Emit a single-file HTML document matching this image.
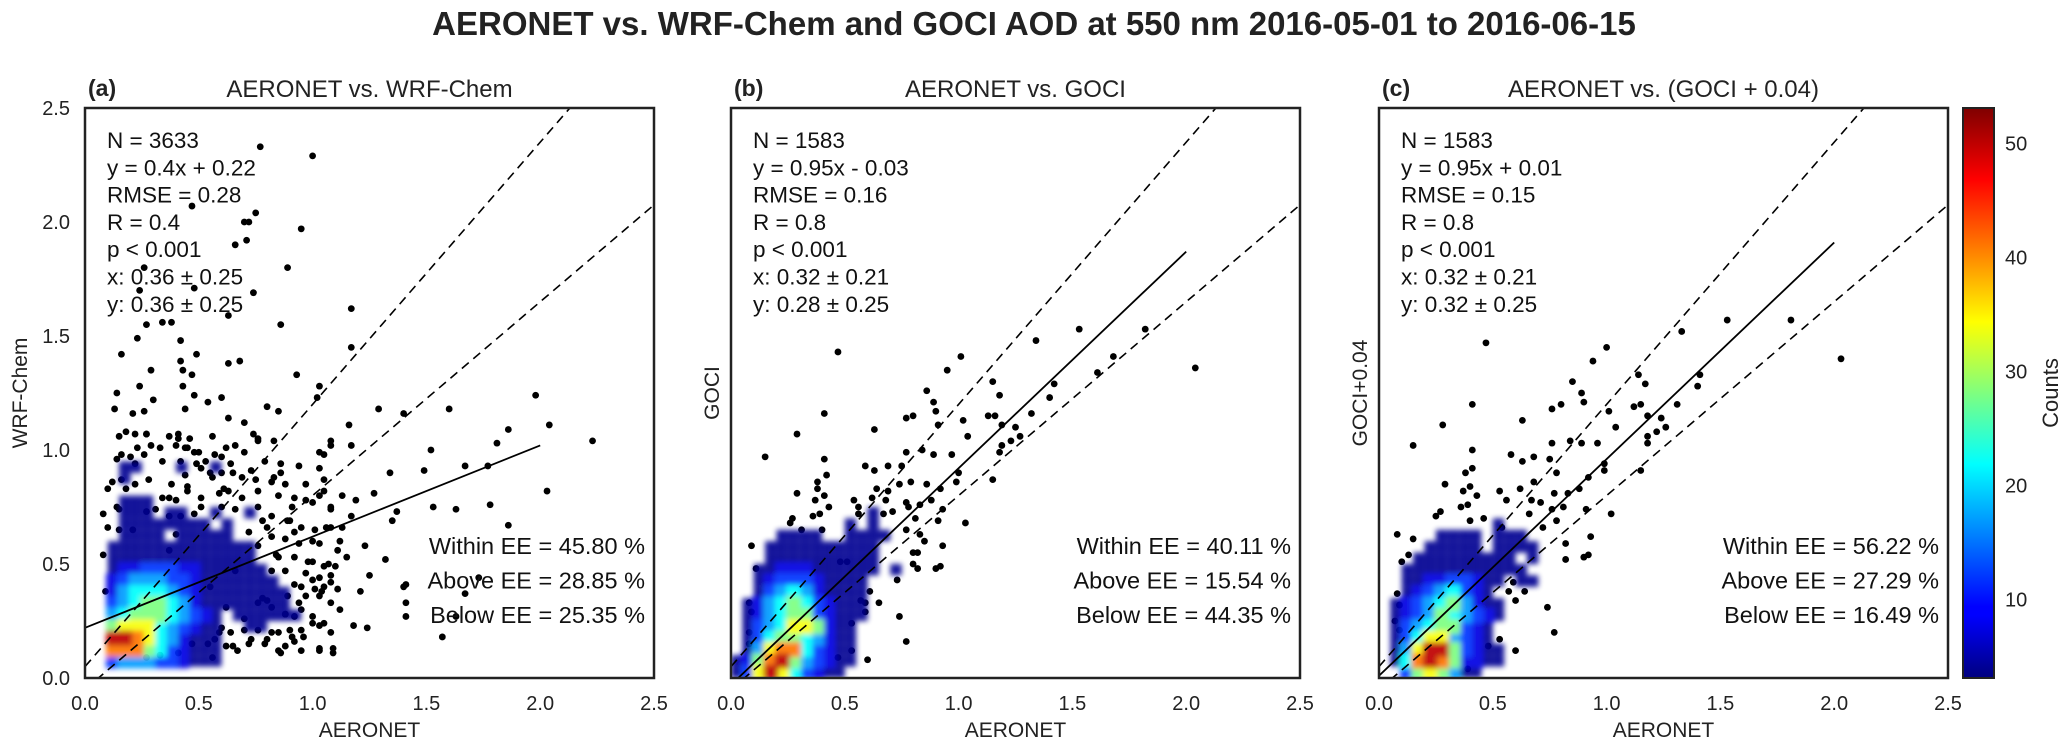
<!DOCTYPE html>
<html><head><meta charset="utf-8">
<style>
html,body{margin:0;padding:0;background:#fff;}
svg{display:block;font-family:"Liberation Sans",Arial,sans-serif;}
</style></head>
<body>
<svg id="chart" width="2067" height="749" viewBox="0 0 2067 749" xmlns="http://www.w3.org/2000/svg">
<defs>
<filter id="soft" x="-5%" y="-5%" width="110%" height="110%"><feGaussianBlur stdDeviation="2.6"/></filter>
<linearGradient id="jetGrad" x1="0" y1="1" x2="0" y2="0">
<stop offset="0" stop-color="#00007f"/><stop offset="0.11" stop-color="#0000ff"/>
<stop offset="0.125" stop-color="#0000ff"/><stop offset="0.375" stop-color="#00ffff"/>
<stop offset="0.5" stop-color="#7fff7f"/><stop offset="0.625" stop-color="#ffff00"/>
<stop offset="0.875" stop-color="#ff0000"/><stop offset="1" stop-color="#7f0000"/>
</linearGradient>
</defs>
<text x="1034" y="35" text-anchor="middle" font-size="33" font-weight="bold" fill="#222">AERONET vs. WRF-Chem and GOCI AOD at 550 nm 2016-05-01 to 2016-06-15</text>
<g id="panels"></g>
<g>
<rect x="1963" y="108" width="31" height="570" fill="url(#jetGrad)" stroke="#222" stroke-width="2"/>
<g id="cbticks" font-size="20" fill="#222"></g>
<text transform="translate(2058,393) rotate(-90)" text-anchor="middle" font-size="22" fill="#222">Counts</text>
</g>
</svg>
<script>
// ---------- Data ----------
const axisTicks = [0, 0.5, 1.0, 1.5, 2.0, 2.5];
const axisTickLabels = ["0.0","0.5","1.0","1.5","2.0","2.5"];
const cbTicks = [10, 20, 30, 40, 50];
const cbMin = 3.1, cbMax = 53.1;
const levelCounts = [0, 4, 8, 12, 17, 22, 28, 34, 41, 50];

const panelIds = ["a","b","c"];
const panelTitles = ["AERONET vs. WRF-Chem","AERONET vs. GOCI","AERONET vs. (GOCI + 0.04)"];
const panelYLabels = ["WRF-Chem","GOCI","GOCI+0.04"];
const fitSlopes = [0.4, 0.95, 0.95];
const fitIntercepts = [0.22, -0.03, 0.01];
const statsA = ["N = 3633","y = 0.4x + 0.22","RMSE = 0.28","R = 0.4","p < 0.001","x: 0.36 ± 0.25","y: 0.36 ± 0.25"];
const statsB = ["N = 1583","y = 0.95x - 0.03","RMSE = 0.16","R = 0.8","p < 0.001","x: 0.32 ± 0.21","y: 0.28 ± 0.25"];
const statsC = ["N = 1583","y = 0.95x + 0.01","RMSE = 0.15","R = 0.8","p < 0.001","x: 0.32 ± 0.21","y: 0.32 ± 0.25"];
const eeA = ["Within EE = 45.80 %","Above EE = 28.85 %","Below EE = 25.35 %"];
const eeB = ["Within EE = 40.11 %","Above EE = 15.54 %","Below EE = 44.35 %"];
const eeC = ["Within EE = 56.22 %","Above EE = 27.29 %","Below EE = 16.49 %"];

const ptsAx = [.77,1.00,.47,.75,.70,.72,.95,.66,.71,.26,.89,.48,.24,.74,.63,1.17,.86,.27,.34,.38,.23,.42,.16,.49,1.17,.42,.63,.68,.29,.43,.47,.93,1.03,.24,.14,.43,.60,.48,.54,.30,1.02,1.98,.13,.80,.85,.63,.44,.21,.26,1.29,1.60,1.40,.70,1.16,2.04,1.86,1.81,2.23,1.08,.76,1.52,1.17,1.05,1.67,1.77,1.49,1.34,1.03,2.03,1.19,1.27,1.63,1.53,1.78,1.37,1.86,1.32,1.40,1.41,1.73,1.67,1.41,1.63,1.57,1.41,1.24,1.18,1.09,1.03,.86,.96,.92,1.00,1.12,1.25,1.21,1.07,1.04,.90,.80,.72,.65,.57,.88,.98,.84,.80,.90,1.00,.76,.69,.61,.55,.65,.57,.49,.45,.41,.33,.22,.18,.14,.10,.12,.16,.27,.82,.86,.92,.72,.76,.80,.92,1.00,1.06,1.12,1.17,1.23,1.15,1.08,1.35,1.00,1.08,.92,.37,.27,.37,.45,.51,.33,.41,.47,.27,.08,.09,.60,.70,.78,.55,.62,.85,.95,.66,.74];
const ptsAy = [2.33,2.29,2.07,2.04,2.00,2.00,1.97,1.90,1.92,1.80,1.80,1.71,1.70,1.69,1.59,1.62,1.55,1.55,1.56,1.56,1.49,1.48,1.42,1.42,1.45,1.39,1.38,1.39,1.35,1.35,1.33,1.33,1.28,1.28,1.25,1.28,1.23,1.24,1.21,1.22,1.23,1.24,1.18,1.19,1.17,1.14,1.18,1.16,1.17,1.18,1.18,1.16,1.12,1.11,1.11,1.09,1.03,1.04,1.04,1.05,1.00,1.02,.98,.93,.93,.91,.90,.92,.82,.78,.81,.74,.75,.76,.73,.67,.52,.40,.41,.44,.37,.33,.27,.18,.27,.22,.23,.13,.12,.11,.18,.16,.24,.30,.45,.38,.50,.38,.21,.17,.15,.14,.17,.28,.51,.54,.66,.69,.60,.75,.79,.83,.90,.90,.98,.94,1.01,1.07,1.01,.94,.83,.75,.66,.86,.98,1.07,.86,.90,.79,.64,.58,.34,.41,.43,.66,.60,.71,.58,.53,.45,.69,.77,.75,.64,.56,.73,.79,.84,.75,.10,.11,.15,.09,.54,.38,.22,.26,.35,.40,.31,.20,.30,.47];
const ptsAx2 = [.15,.18,.22,.27,.37,.41,.46,.56,.76,.83,1.08,.23,.29,.40,.44,.48,.62,.66,.70,.14,.20,.26,.34,.42,.50,.53,.60,.64,.73,.79,.86,.94,1.03,1.05,.10,.16,.22,.28,.38,.44,.51,.56,.60,.69,.75,.83,.88,.97,1.05,1.13,.34,.40,.45,.51,.59,.63,.76,.85,.91,.97,1.03,1.08,.08,.15,.31,.37,.42,.48,.60,.66,.78,.82,.89,.95,1.01,1.08,1.13,.15,.21,.40,.82,.88,.94,1.03,1.11,.85,.92,1.00,1.05,1.10,.82,.88,.97,1.03,1.08,.95,1.01,1.05,1.11,.89,.94,1.03,1.08,.97,.76,.82,.88,.92,1.00,1.05,.95,1.03,1.08,.91,.82,.76,.70,.64,.59,.54,.62,.67,.73,.79,.88,.95,1.03,1.09,.85,.56,.62];
const ptsAy2 = [1.07,1.06,1.08,1.07,1.07,1.06,1.05,1.05,1.06,1.04,1.04,1.02,1.01,1.02,1.02,1.01,.99,1.01,1.02,.99,.96,.97,.98,.95,.95,.99,.95,.97,.94,.91,.95,.94,.93,.99,.87,.83,.87,.85,.87,.85,.89,.92,.88,.90,.88,.87,.88,.85,.85,.82,.80,.79,.78,.82,.79,.81,.82,.82,.80,.75,.78,.80,.74,.72,.74,.74,.71,.71,.72,.75,.74,.69,.71,.69,.66,.65,.66,.66,.65,.65,.63,.62,.61,.59,.59,.56,.53,.53,.51,.49,.49,.47,.47,.46,.44,.42,.40,.39,.40,.39,.36,.33,.36,.33,.36,.33,.31,.28,.27,.27,.24,.21,.23,.20,.18,.20,.21,.21,.20,.20,.15,.14,.12,.17,.15,.14,.12,.13,.11,.12,.09];
const ptsBx = [1.53,1.34,1.82,2.04,.47,1.01,.95,1.68,1.61,.86,1.15,1.18,1.42,1.40,.89,.90,.41,.77,.80,1.13,1.16,1.02,.91,1.32,1.19,1.25,.63,.29,1.27,1.23,1.19,1.18,1.04,.15,.77,.84,.89,.97,.41,.59,.69,.63,.75,1.00,.42,.79,.74,.99,1.15,.86,.38,.92,.29,.38,.41,.64,.69,.37,.62,.68,.54,.88,.77,.83,.43,.56,.78,.93,.39,.36,.56,.71,.67,.81,.27,.26,.31,.40,.91,1.03,.77,.83,.09,.85,.93,.80,.82,.48,.51,.80,.82,.90,.92,.11,.73,.61,.65,.57,.59,.59,.74,.08,.09,.53,.77,.53,.60,.47,.08,.08];
const ptsBy = [1.53,1.48,1.53,1.36,1.43,1.41,1.35,1.41,1.34,1.26,1.30,1.24,1.29,1.23,1.21,1.17,1.16,1.14,1.15,1.15,1.15,1.13,1.11,1.16,1.11,1.10,1.09,1.07,1.06,1.04,1.02,.99,1.06,.97,.99,1.00,.98,.98,.96,.93,.93,.91,.93,.90,.89,.86,.85,.86,.87,.85,.86,.83,.81,.83,.80,.83,.82,.78,.79,.78,.78,.78,.77,.76,.75,.75,.75,.74,.72,.71,.72,.73,.72,.70,.70,.68,.65,.65,.69,.68,.65,.63,.58,.60,.58,.55,.55,.51,.51,.50,.48,.48,.49,.48,.43,.38,.33,.34,.33,.29,.27,.33,.29,.24,.16,.12,.08,.09,.20,.15];
const ptsCx = [.47,1.00,1.53,1.81,1.33,2.03,.94,1.14,1.17,1.41,1.40,.85,.89,.90,.41,.76,.80,1.12,1.15,1.31,1.01,1.18,1.24,1.26,1.22,.28,.63,1.04,1.18,1.18,.84,.89,.96,.76,.15,.41,.58,.63,.68,.75,.78,.99,.99,1.15,.41,.38,.29,.68,.92,.37,.40,.53,.62,.77,.83,.88,.43,.56,.67,.71,.76,.81,.36,.39,.91,1.02,.66,.27,.25,.40,.46,.54,.78,.72,.08,.15,.93,.82,.92,.90,.82,.13,.10,.59,.57,.60,.64,.74,.77,.53,.48,.60,.39,.08,.09,.07,.09];
const ptsCy = [1.47,1.45,1.57,1.57,1.52,1.40,1.39,1.33,1.29,1.33,1.28,1.30,1.25,1.21,1.20,1.18,1.20,1.19,1.20,1.20,1.17,1.15,1.14,1.10,1.08,1.11,1.13,1.10,1.06,1.03,1.04,1.03,1.03,1.03,1.02,1.00,.98,.95,.97,.96,.90,.94,.91,.91,.92,.90,.85,.86,.88,.82,.84,.82,.83,.81,.81,.83,.80,.78,.78,.77,.74,.75,.75,.76,.74,.72,.72,.73,.71,.69,.70,.66,.69,.66,.63,.61,.62,.59,.54,.53,.52,.54,.51,.42,.38,.34,.38,.31,.20,.17,.14,.12,.04,.37,.32,.25,.21];

// density grids: each string is one row (top row first), each char a count level per 0.05 x 0.05 cell
const densTop = [1.0, 0.75, 0.75];
const densA = ["....................","...11...1..1........","...1................","....................","...111..............","...111.11..1..1.....","...11111111.1.......","...1111.11111.......","..1111111111111.....","..1111111111111.....","..12233322111111....","..234443321111111...","..2455543211111111..","..3456654211111111..","..4566654321.111111.","..6777543211..11....","..9987542111........","..8886532111........","..3444332111........","...................."];
const densB = ["............1...","..........1.1...","....1111..1111..","...1111111111...","...1111111111...","..11222111111.1.","..1233321111....","..1345421111....",".12456532111....",".12456632111....",".1345776211.....",".1356654211.....",".1478853211.....","12689643211.....","1379753211......"];
const densC = ["................","..........1.....",".....1111.111...","....11111.1111..","...111111111.1..","..11111111111...","..112233211.11..","..12345321......",".1234564211.....",".1234654321.....",".134566321......",".135774321......",".1479963211.....",".1589862211.....","..3676411......."];

// ---------- Layout ----------
const NS = "http://www.w3.org/2000/svg";
const panelLeft = [85, 731, 1379];
const panelTop = 108, panelW = 569, panelH = 570, xMax = 2.5, yMax = 2.5;
const statsList = [statsA, statsB, statsC];
const eeList = [eeA, eeB, eeC];
const ptsX = [ptsAx.concat(ptsAx2), ptsBx, ptsCx];
const ptsY = [ptsAy.concat(ptsAy2), ptsBy, ptsCy];
const densList = [densA, densB, densC];

function jet(t){
  t = Math.max(0, Math.min(1, t));
  const c = v => Math.round(255*Math.max(0, Math.min(1, v)));
  return `rgb(${c(1.5-Math.abs(4*t-3))},${c(1.5-Math.abs(4*t-2))},${c(1.5-Math.abs(4*t-1))})`;
}
function mk(tag, attrs, parent){
  const e = document.createElementNS(NS, tag);
  for (const k in attrs) e.setAttribute(k, attrs[k]);
  parent.appendChild(e);
  return e;
}
const root = document.getElementById("panels");

panelIds.forEach((pid, i) => {
  const L = panelLeft[i];
  const sx = v => L + v / xMax * panelW;
  const sy = v => panelTop + panelH - v / yMax * panelH;
  const g = mk("g", {}, root);
  
  
  const cp = mk("clipPath", {id: "clip" + pid}, g);
  mk("rect", {x: L, y: panelTop, width: panelW, height: panelH}, cp);
  mk("rect", {x: L, y: panelTop, width: panelW, height: panelH, fill: "#fff"}, g);

  const plot = mk("g", {"clip-path": `url(#clip${pid})`}, g);
  const pg = mk("g", {fill: "#000"}, plot);
  
  
  ptsX[i].forEach((xv, k) => {
    const c = mk("circle", {cx: sx(xv), cy: sy(ptsY[i][k]), r: 3.4}, pg);
    
    
  });
  const dg = mk("g", {filter: "url(#soft)", opacity: "0.92"}, plot);
  
  
  const rows = densList[i];
  const cw = 0.05;
  for (let lvl = 1; lvl <= 9; lvl++) {
    rows.forEach((row, r) => {
      for (let col = 0; col < row.length; col++) {
        if (row[col] === "." || Number(row[col]) !== lvl) continue;
        const cnt = levelCounts[lvl];
        const x0 = col * cw, yTop = densTop[i] - r * cw;
        const pad = lvl === 1 ? 0 : -0.008;
        const rc = mk("rect", {x: sx(x0 + pad), y: sy(yTop - pad), width: sx(x0 + cw - pad) - sx(x0 + pad), height: sy(yTop - cw + pad) - sy(yTop - pad), fill: jet((cnt - cbMin) / (cbMax - cbMin))}, dg);
        
        
      }
    });
  }
  const up = mk("line", {x1: sx(0), y1: sy(0.05), x2: sx(2.5), y2: sy(2.5*1.15+0.05), stroke: "#000", "stroke-width": 1.6, "stroke-dasharray": "9,6"}, plot);
  
  
  const lo = mk("line", {x1: sx(0), y1: sy(-0.05), x2: sx(2.5), y2: sy(2.5*0.85-0.05), stroke: "#000", "stroke-width": 1.6, "stroke-dasharray": "9,6"}, plot);
  
  
  const fit = mk("line", {x1: sx(0), y1: sy(fitIntercepts[i]), x2: sx(2.0), y2: sy(fitSlopes[i]*2.0 + fitIntercepts[i]), stroke: "#000", "stroke-width": 1.8}, plot);
  
  

  const fr = mk("rect", {x: L, y: panelTop, width: panelW, height: panelH, fill: "none", stroke: "#222", "stroke-width": 2.5}, g);
  
  

  axisTicks.forEach((t, k) => {
    const tx = mk("text", {x: sx(t), y: 710, "text-anchor": "middle", "font-size": 20, fill: "#222"}, g);
    tx.textContent = axisTickLabels[k];
    
    
    if (i === 0) {
      const ty = mk("text", {x: 70, y: sy(t) + 7, "text-anchor": "end", "font-size": 20, fill: "#222"}, g);
      ty.textContent = axisTickLabels[k];
      
      
    }
  });
  const xl = mk("text", {x: L + panelW/2, y: 737, "text-anchor": "middle", "font-size": 21, fill: "#222"}, g);
  xl.textContent = "AERONET";
  
  
  const ylx = i === 0 ? 27 : L - 12;
  const yl = mk("text", {transform: `translate(${ylx},${panelTop + panelH/2}) rotate(-90)`, "text-anchor": "middle", "font-size": 21, fill: "#222"}, g);
  yl.textContent = panelYLabels[i];
  
  

  const tl = mk("text", {x: L + 3, y: 96, "font-size": 23, "font-weight": "bold", fill: "#222"}, g);
  tl.textContent = "(" + pid + ")";
  
  
  const tt = mk("text", {x: L + panelW/2, y: 97, "text-anchor": "middle", "font-size": 24, fill: "#222"}, g);
  tt.textContent = panelTitles[i];
  
  

  statsList[i].forEach((s, k) => {
    const st = mk("text", {x: L + 22, y: 148 + k * 27.3, "font-size": 22.5, fill: "#111"}, g);
    st.textContent = s;
    
    
  });
  eeList[i].forEach((s, k) => {
    const et = mk("text", {x: L + panelW - 9, y: 554 + k * 34.5, "text-anchor": "end", "font-size": 23.5, fill: "#111"}, g);
    et.textContent = s;
    
    
  });
});

const cbg = document.getElementById("cbticks");
cbTicks.forEach(v => {
  const y = 678 - (v - cbMin) / (cbMax - cbMin) * 570;
  const t = mk("text", {x: 2005, y: y + 7}, cbg);
  t.textContent = String(v);
  
  
});
</script>
</body></html>
